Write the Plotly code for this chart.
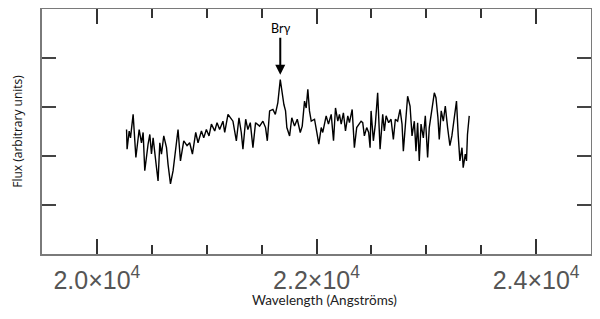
import plotly.graph_objects as go

# spectrum: wavelength (Angstroms) and flux (arbitrary units)
wavelength = [
    20270, 20275, 20294, 20306, 20330, 20355, 20385, 20406, 20421, 20436,
    20466, 20482, 20497, 20512, 20543, 20557, 20573, 20588, 20609, 20634,
    20648, 20670, 20694, 20709, 20739, 20761, 20791, 20821, 20845, 20870,
    20900, 20921, 20952, 20973, 20997, 21021, 21043, 21073, 21094, 21118,
    21148, 21164, 21194, 21239, 21270, 21294, 21315, 21330, 21355, 21375,
    21397, 21421, 21445, 21482, 21512, 21536, 21552, 21573, 21603, 21625,
    21648, 21670, 21688, 21703, 21718, 21730, 21755, 21775, 21800, 21825,
    21852, 21870, 21891, 21906, 21921, 21936, 21952, 21982, 22003, 22021,
    22043, 22057, 22088, 22109, 22134, 22155, 22173, 22194, 22209, 22225,
    22245, 22264, 22285, 22300, 22325, 22345, 22366, 22391, 22406, 22421,
    22436, 22457, 22475, 22488, 22497, 22518, 22536, 22557, 22579, 22603,
    22618, 22634, 22657, 22679, 22700, 22718, 22739, 22761, 22779, 22791,
    22806, 22830, 22852, 22870, 22891, 22906, 22921, 22936, 22952, 22973,
    22991, 23012, 23027, 23052, 23073, 23088, 23106, 23118, 23136, 23155,
    23173, 23194, 23215, 23233, 23255, 23275, 23291, 23306, 23325, 23336,
    23355, 23366, 23375, 23391,
]
flux = [
    2.54, 2.14, 2.51, 2.37, 2.85, 1.97, 2.54, 2.27, 2.48, 1.70,
    2.24, 2.44, 2.04, 2.37, 1.76, 1.49, 2.27, 2.04, 2.41, 2.17,
    1.83, 1.43, 1.70, 1.97, 2.54, 1.90, 2.31, 2.21, 2.27, 2.04,
    2.48, 2.27, 2.51, 2.37, 2.54, 2.41, 2.65, 2.51, 2.68, 2.54,
    2.71, 2.48, 2.85, 2.71, 2.31, 2.78, 2.48, 2.14, 2.75, 2.54,
    2.68, 2.17, 2.68, 2.61, 2.71, 2.58, 2.31, 2.92, 2.95, 2.85,
    3.09, 3.56, 3.26, 3.05, 2.92, 2.58, 2.41, 2.78, 2.61, 2.75,
    2.48, 2.61, 3.12, 2.98, 3.36, 2.92, 2.71, 2.75, 2.48, 2.24,
    2.58, 2.48, 2.82, 2.65, 2.85, 2.31, 2.98, 2.71, 2.85, 2.65,
    2.88, 2.51, 2.82, 2.68, 2.95, 2.17, 2.58, 2.65, 2.71, 2.68,
    2.41, 2.58, 2.48, 2.17, 2.92, 2.31, 2.65, 3.29, 2.14, 2.85,
    2.51, 2.82, 2.68, 2.75, 2.34, 2.75, 2.71, 2.95, 2.65, 2.10,
    2.58, 3.22, 3.02, 2.41, 2.71, 2.10, 2.68, 1.90, 2.65, 2.37,
    2.82, 1.97, 2.58, 2.95, 3.29, 3.19, 2.78, 2.34, 2.92, 2.71,
    3.02, 2.58, 2.21, 2.41, 2.75, 3.12, 2.41, 1.90, 2.17, 1.76,
    2.04, 1.90, 2.44, 2.82,
]

x_ticks = [20000, 22000, 24000]
x_tick_text = ["2.0×10<sup>4</sup>", "2.2×10<sup>4</sup>", "2.4×10<sup>4</sup>"]
y_ticks = [1, 2, 3, 4]

line_peak = (21670, 3.66)  # arrow tip above the Br gamma peak

fig = go.Figure()
fig.add_trace(go.Scatter(x=wavelength, y=flux, mode="lines",
                         line=dict(color="black", width=1.4), showlegend=False))

# the page body adds an 8px margin, so the figure is a bit smaller than the window
frame = "#7a7a7a"
fig.update_layout(
    width=584, height=303,
    margin=dict(l=34, r=1, t=1, b=57),
    paper_bgcolor="white", plot_bgcolor="white",
    font=dict(family="Liberation Sans, Arial", color="#333"),
    xaxis=dict(
        range=[19500, 24500], tickvals=x_ticks, ticktext=x_tick_text,
        ticks="inside", ticklen=15, tickwidth=1.5, tickcolor="#333",
        showline=True, linecolor=frame, linewidth=1.5, mirror="allticks",
        showgrid=False, zeroline=False, automargin=False,
        ticklabelstandoff=3,
        tickfont=dict(size=25, color="#555"),
        minor=dict(dtick=500, tick0=19500, ticks="inside", ticklen=9,
                   tickwidth=1.5, tickcolor="#333", showgrid=False),
    ),
    yaxis=dict(
        range=[0, 5], tickvals=y_ticks, showticklabels=False,
        ticks="inside", ticklen=14, tickwidth=1.5, tickcolor="#444",
        showline=True, linecolor=frame, linewidth=1.5, mirror="allticks",
        showgrid=False, zeroline=False, automargin=False,
    ),
)

fig.add_annotation(x=0.515, y=-0.187, xref="paper", yref="paper",
                   xanchor="center", yanchor="middle",
                   text="Wavelength (Angströms)", showarrow=False,
                   font=dict(family="Lato", size=13.5, color="#222"))
fig.add_annotation(x=-0.045, y=0.5, xref="paper", yref="paper",
                   xanchor="center", yanchor="middle",
                   text="Flux (arbitrary units)", textangle=-90, showarrow=False,
                   font=dict(family="Open Sans", size=12, color="#111"))
fig.add_annotation(x=line_peak[0], y=line_peak[1], text="Brγ",
                   showarrow=True, arrowhead=2, arrowsize=1, arrowwidth=2,
                   arrowcolor="black", ax=0, ay=-46,
                   font=dict(family="Lato", size=12.5, color="black"))

fig.write_html("out.html")
